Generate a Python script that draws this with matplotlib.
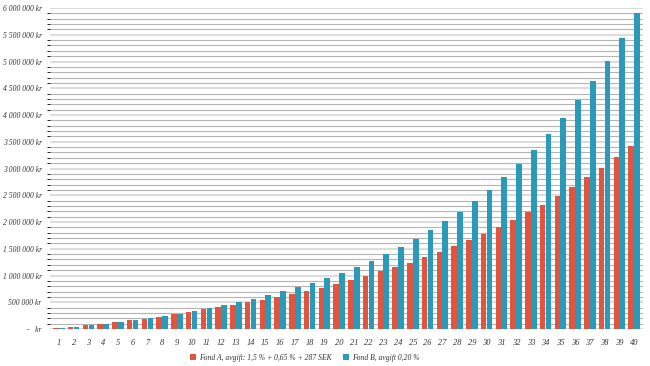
import numpy as np
import matplotlib.pyplot as plt
from matplotlib.ticker import MultipleLocator, FuncFormatter

years = list(range(1, 41))
fond_a = [0.02, 0.045, 0.07, 0.10, 0.13, 0.16, 0.19, 0.23, 0.28, 0.32,
          0.37, 0.41, 0.45, 0.50, 0.54, 0.60, 0.65, 0.71, 0.77, 0.84,
          0.92, 0.99, 1.08, 1.16, 1.23, 1.35, 1.44, 1.55, 1.66, 1.78,
          1.91, 2.04, 2.19, 2.32, 2.49, 2.65, 2.84, 3.01, 3.21, 3.42]
fond_b = [0.02, 0.045, 0.07, 0.10, 0.13, 0.16, 0.20, 0.24, 0.29, 0.34,
          0.39, 0.45, 0.50, 0.56, 0.64, 0.71, 0.78, 0.86, 0.95, 1.05,
          1.16, 1.27, 1.40, 1.53, 1.68, 1.85, 2.02, 2.19, 2.39, 2.60,
          2.84, 3.08, 3.35, 3.64, 3.94, 4.28, 4.64, 5.01, 5.44, 5.91]
label_a = "Fond A, avgift: 1,5 % + 0,65 % + 287 SEK"
label_b = "Fond B, avgift 0,20 %"

fond_a = np.array(fond_a) * 1e6
fond_b = np.array(fond_b) * 1e6
x = np.arange(len(years))

plt.rcParams['font.family'] = ['Liberation Serif', 'DejaVu Serif']
fig = plt.figure(figsize=(6.5, 3.66), dpi=100)
ax = fig.add_axes([0.077, 0.101, 0.912, 0.877])

w = 0.38
ax.bar(x - 0.2, fond_a, w, color='#e0553f', label=label_a, zorder=3)
ax.bar(x + 0.2, fond_b, w, color='#2a9ab8', label=label_b, zorder=3)

ax.set_ylim(0, 6e6)
ax.set_xlim(-0.6, len(years) - 0.4)
ax.yaxis.set_major_locator(MultipleLocator(500000))
ax.yaxis.set_minor_locator(MultipleLocator(100000))

def fmt(v, pos):
    if v == 0:
        return "-   kr"
    return "{:,.0f} kr".format(v).replace(",", " ")

ax.yaxis.set_major_formatter(FuncFormatter(fmt))
ax.grid(axis='y', which='minor', color='#b4b4b4', lw=0.8, zorder=0)
ax.grid(axis='y', which='major', color='#dcdcdc', lw=1.5, zorder=0)
ax.set_xticks(x)
ax.set_xticklabels([str(y) for y in years])
for s in ax.spines.values():
    s.set_visible(False)
ax.tick_params(length=0)
ax.tick_params(axis='y', pad=6, labelsize=5.5, labelcolor='#333333')
ax.tick_params(axis='x', pad=7, labelsize=6, labelcolor='#333333')
for t in ax.get_xticklabels() + ax.get_yticklabels():
    t.set_style('italic')

ax.legend(loc='upper center', bbox_to_anchor=(0.43, -0.055), ncol=2, frameon=False,
          prop={'size': 5.5, 'style': 'italic'}, handlelength=0.8, handleheight=0.8,
          columnspacing=1.5, handletextpad=0.4, labelcolor='#333333')

fig.savefig('out.png', dpi=100)
